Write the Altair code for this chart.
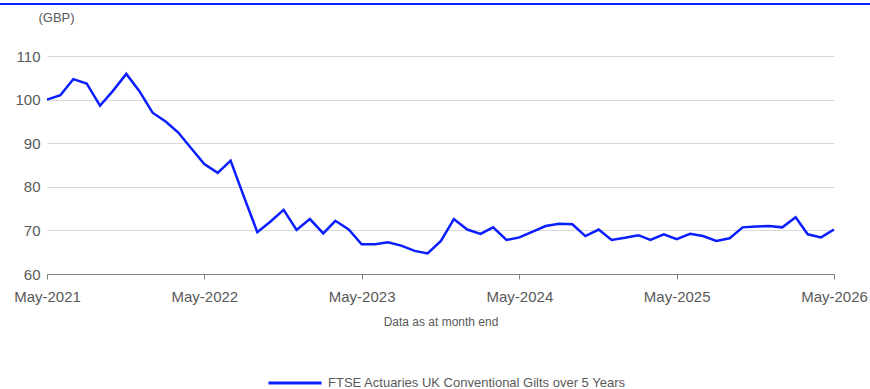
import altair as alt
import pandas as pd

months = pd.date_range("2021-05-01", "2026-05-01", freq="MS")
values = [
    100.0, 101.0, 104.7, 103.7, 98.6, 102.0, 105.9, 102.0, 97.0, 94.9,
    92.5, 88.8, 85.2, 83.2, 86.0, 77.7, 69.6, 72.0, 74.7, 70.1,
    72.6, 69.3, 72.2, 70.2, 66.8, 66.8, 67.3, 66.5, 65.3, 64.7,
    67.6, 72.6, 70.2, 69.2, 70.7, 67.8, 68.4, 69.7, 71.0, 71.5,
    71.4, 68.7, 70.2, 67.8, 68.3, 68.9, 67.8, 69.1, 68.0, 69.2,
    68.7, 67.6, 68.2, 70.7, 70.9, 71.0, 70.7, 73.0, 69.1, 68.4,
    70.2,
]
series_name = "FTSE Actuaries UK Conventional Gilts over 5 Years"
y_ticks = [60, 70, 80, 90, 100, 110]
x_ticks = ["2021-05-01", "2022-05-01", "2023-05-01", "2024-05-01", "2025-05-01", "2026-05-01"]

df = pd.DataFrame({"date": months, "value": values, "series": series_name})

FONT = "Liberation Sans"
GREY = "#595959"
BLUE = "#0a1eff"

line = alt.Chart(df).mark_line(strokeWidth=2.5, color=BLUE, clip=False).encode(
    x=alt.X(
        "date:T",
        scale=alt.Scale(domain=[pd.Timestamp("2021-05-01"), pd.Timestamp("2026-05-01")]),
        axis=alt.Axis(
            values=[pd.Timestamp(t) for t in x_ticks],
            format="%b-%Y",
            grid=False,
            domainColor="#808080",
            tickColor="#808080",
            tickSize=5,
            labelFont=FONT,
            labelFontSize=15,
            labelColor=GREY,
            labelPadding=10,
            labelFlush=False,
            labelBound=False,
            labelOverlap=False,
            title="Data as at month end",
            titleFont=FONT,
            titleFontSize=12,
            titleFontWeight="normal",
            titleColor=GREY,
            titlePadding=12,
        ),
    ),
    y=alt.Y(
        "value:Q",
        scale=alt.Scale(domain=[60, 110], nice=False, zero=False),
        axis=alt.Axis(
            values=y_ticks,
            grid=True,
            gridColor="#d9d9d9",
            domain=False,
            ticks=False,
            labelFont=FONT,
            labelFontSize=15,
            labelColor=GREY,
            labelPadding=7,
            title="(GBP)",
            titleAngle=0,
            titleAlign="left",
            titleBaseline="middle",
            titleX=-9,
            titleY=-39,
            titleFont=FONT,
            titleFontSize=13,
            titleFontWeight="normal",
            titleColor=GREY,
        ),
    ),
    color=alt.Color(
        "series:N",
        scale=alt.Scale(domain=[series_name], range=[BLUE]),
        legend=alt.Legend(
            title=None,
            orient="none",
            legendX=220,
            legendY=299,
            padding=0,
            symbolType="stroke",
            symbolSize=2809,
            symbolStrokeWidth=3,
            labelFont=FONT,
            labelFontSize=13,
            labelColor=GREY,
            labelOffset=5,
            labelLimit=600,
        ),
    ),
)

top_rule = alt.Chart(df).mark_rule(color=BLUE, strokeWidth=1.2, clip=False).encode(
    x=alt.value(-47), x2=alt.value(823), y=alt.value(-52)
)

chart = alt.layer(line, top_rule).properties(
    width=787,
    height=218,
    autosize=alt.AutoSizeParams(type="none"),
    padding={"left": 47, "top": 56, "right": 36, "bottom": 115},
).configure_view(stroke=None)

chart.save("out.html", embed_options={"renderer": "svg", "actions": False})
